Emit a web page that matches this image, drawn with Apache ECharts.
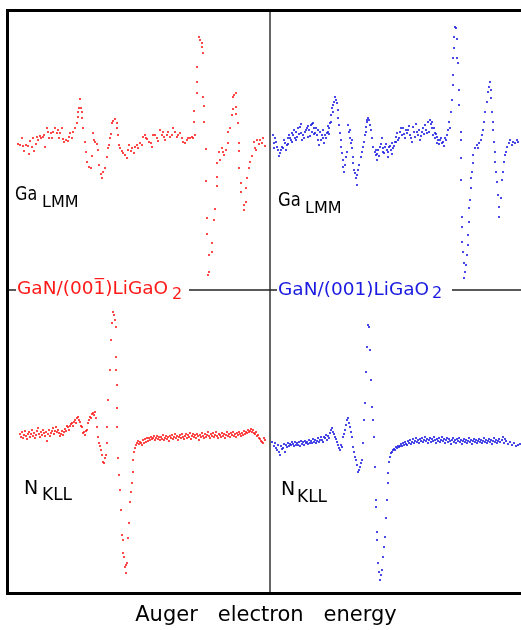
<!DOCTYPE html>
<html>
<head>
<meta charset="utf-8">
<script src="https://cdn.jsdelivr.net/npm/echarts@6/dist/echarts.min.js"></script>
<style>
  html, body { margin: 0; padding: 0; background: #fff; }
  #main { width: 521px; height: 630px; }
</style>
</head>
<body>
<div id="main"></div>
<script>
// Auger spectra, dN/dE (arbitrary units) vs channel
// Ga LMM, GaN on (00-1) LiGaO2
var gaRed = [
  [18,6],[20,5],[22,12],[23,4],[24,-1],[26,5],[28,4],[29,-4],[30,9],[32,3],[33,12],[34,-1],[36,6],[37,13],[38,10],
  [40,14],[41,12],[43,13],[44,15],[45,3],[47,22],[48,18],[49,12],[51,17],[52,12],[53,18],[55,22],[57,17],[58,20],
  [59,12],[60,17],[62,22],[63,11],[64,8],[66,10],[68,9],[69,13],[70,17],[72,12],[73,18],[75,22],[77,27],[78,33],
  [78,38],[79,42],[80,51],[81,42],[82,38],[82,32],[83,22],[85,8],[86,-2],[87,-12],[89,-17],[91,-18],[92,-6],
  [93,17],[94,10],[95,8],[97,6],[98,0],[99,-15],[101,-24],[102,-28],[103,-22],[105,-18],[107,-7],[108,2],[109,5],
  [110,12],[111,16],[112,27],[113,29],[115,31],[117,27],[117,22],[118,15],[119,5],[120,2],[122,-1],[123,-3],
  [125,-5],[127,-8],[128,0],[129,5],[131,-1],[132,2],[134,-3],[135,3],[137,5],[138,2],[140,7],[142,5],[143,13],
  [145,15],[146,12],[147,11],[149,8],[151,7],[152,3],[153,15],[155,15],[157,12],[158,9],[160,20],[162,15],
  [163,18],[164,13],[165,10],[167,15],[168,18],[170,13],[172,15],[173,22],[175,18],[177,13],[178,15],[180,17],
  [182,12],[183,8],[185,7],[187,10],[188,12],[190,12],[192,13],[193,12],[194,28],[194,39],[195,15],[197,57],
  [197,68],[197,83],[199,113],[200,110],[202,107],[202,103],[203,97],[203,53],[204,44],[204,28],[206,1],[206,-31],
  [207,-68],[207,-84],[209,-105],[209,-122],[208,-125],[212,-93],[212,-102],[214,-70],[215,-59],[217,-36],
  [217,-27],[217,-13],[219,-2],[220,-10],[222,2],[223,-2],[224,-5],[226,0],[228,7],[228,18],[230,22],[232,35],
  [233,41],[233,53],[234,55],[236,57],[236,43],[236,36],[238,27],[239,7],[239,-1],[239,-18],[241,-33],[241,-42],
  [244,-55],[244,-60],[246,-52],[246,-38],[247,-28],[249,-18],[250,-12],[252,-6],[254,8],[255,2],[256,0],
  [257,10],[259,6],[260,10],[262,7],[263,12],[265,4]
];
// Ga LMM, GaN on (001) LiGaO2
var gaBlue = [
  [273,15],[274,7],[275,12],[277,3],[278,0],[280,-3],[282,3],[283,2],[285,7],[287,5],[288,12],[289,15],[291,10],
  [292,17],[293,15],[295,12],[296,18],[297,13],[298,22],[300,23],[301,17],[302,10],[303,15],[305,18],[307,22],
  [308,13],[309,20],[311,25],[312,18],[313,27],[314,22],[315,17],[317,15],[318,10],[319,5],[320,18],[322,15],
  [323,12],[324,7],[325,15],[327,17],[328,18],[329,22],[330,27],[331,35],[332,42],[333,45],[334,48],[335,53],
  [336,50],[337,47],[338,40],[338,32],[339,25],[340,17],[341,10],[341,3],[342,-3],[343,-10],[343,-17],[344,-22],
  [345,-15],[346,-7],[347,-2],[348,25],[349,18],[350,12],[351,7],[352,2],[353,-7],[353,-13],[354,-20],[355,-23],
  [356,-28],[357,-35],[357,-25],[358,-20],[359,-15],[361,-7],[362,-2],[363,3],[364,8],[365,15],[366,23],[367,28],
  [368,32],[369,30],[370,25],[371,20],[372,12],[373,3],[375,-2],[376,-5],[377,-10],[378,0],[380,3],[382,12],
  [383,2],[384,-3],[385,3],[387,0],[388,-7],[389,3],[391,0],[392,7],[393,2],[395,8],[396,13],[397,17],[398,10],
  [400,18],[402,15],[403,22],[405,12],[407,17],[408,20],[410,15],[412,8],[413,23],[415,13],[417,18],[418,15],
  [420,10],[422,18],[423,22],[425,25],[427,17],[428,28],[430,30],[432,22],[433,15],[435,12],[437,7],[438,10],
  [432,28],[435,17],[437,13],[440,10],[442,7],[443,8],[445,12],[447,15],[448,20],[449,28],[451,38],[452,50],
  [453,65],[453,75],[453,92],[454,102],[454,113],[455,123],[456,122],[457,111],[457,92],[458,87],[459,60],
  [459,45],[461,18],[461,10],[461,-8],[461,-30],[462,-67],[462,-77],[462,-92],[463,-102],[464,-113],[464,-128],
  [465,-122],[466,-115],[467,-105],[468,-95],[468,-85],[469,-72],[469,-58],[470,-50],[471,-38],[471,-28],
  [472,-22],[473,-13],[473,-5],[475,2],[477,5],[478,2],[479,7],[481,10],[482,15],[483,20],[484,28],[485,38],
  [487,48],[488,58],[489,63],[490,68],[491,60],[491,52],[492,38],[493,28],[493,20],[494,8],[495,-2],[495,-12],
  [496,-22],[497,-32],[498,-45],[499,-57],[499,-67],[501,-48],[502,-30],[503,-22],[504,-12],[505,-5],[506,-2],
  [507,3],[509,7],[510,10],[512,5],[513,8],[515,7],[517,10],[518,8],
  [274,2],[276,8],[279,-6],[281,0],[284,10],[286,0],[288,6],[290,12],[292,8],[294,20],[296,10],[299,16],
  [301,26],[304,12],[306,20],[308,24],[310,14],[312,26],[314,16],[316,22],[318,20],[321,10],[323,20],[326,12],
  [328,24],[329,16],[331,28],[333,38],[350,20],[352,10],[366,18],[367,30],[376,0],[377,-4],[379,-6],[381,6],
  [383,-2],[386,6],[388,-2],[390,4],[392,-4],[394,4],[396,8],[399,12],[401,22],[404,16],[406,20],[409,24],
  [411,12],[414,18],[416,26],[419,20],[421,14],[424,16],[426,20],[429,18],[431,26],[434,22],[436,16],[439,6],
  [441,12],[444,4],[446,10],[450,22]
];
// N KLL, GaN on (00-1) LiGaO2
var nRed = [
  [20,6],[21,3],[22,8],[23,2],[24,5],[25,9],[26,4],[27,1],[28,6],[29,8],[30,3],[31,6],[32,10],[33,4],[34,7],
  [35,2],[36,5],[37,9],[38,12],[39,6],[40,3],[41,8],[42,5],[43,10],[44,7],[45,4],[46,8],[47,-1],[48,6],[49,10],
  [50,4],[51,7],[52,9],[53,12],[54,6],[55,9],[56,13],[57,8],[58,10],[59,7],[60,4],[61,6],[62,9],[63,5],[64,8],
  [65,11],[66,9],[67,14],[68,13],[69,10],[70,14],[71,16],[72,17],[73,14],[74,18],[75,20],[76,17],[77,22],
  [78,23],[79,20],[80,18],[81,14],[82,13],[83,7],[84,8],[85,5],[86,9],[87,10],[88,17],[89,20],[90,23],[91,22],
  [92,26],[93,27],[94,25],[95,28],[96,22],[97,13],[98,3],[99,-3],[100,-6],[101,-10],[102,-15],[103,-22],
  [104,-23],[105,-18],[106,-15],[107,-3],[107,13],[108,40],[110,70],[111,100],[112,117],[113,128],[114,125],
  [115,120],[116,113],[116,83],[116,70],[117,55],[117,32],[117,13],[118,-18],[119,-35],[120,-50],[121,-70],
  [122,-95],[123,-100],[123,-113],[124,-117],[125,-127],[126,-133],[126,-125],[127,-123],[128,-98],[129,-83],
  [130,-62],[131,-52],[132,-43],[133,-32],[133,-20],[134,-12],[135,-8],[136,-5],[137,-3],[138,-1],[139,-4],
  [140,-2],[141,-3],[142,-5],[143,0],[144,-3],[145,1],[146,-2],[147,2],[148,-1],[149,2],[150,0],[151,3],
  [152,1],[153,2],[154,4],[155,0],[156,2],[157,4],[158,1],[159,3],[160,0],[161,3],[162,1],[163,5],[164,0],
  [165,2],[166,4],[167,1],[168,3],[169,-1],[170,4],[171,2],[172,5],[173,1],[174,3],[175,6],[176,2],[177,4],
  [178,0],[179,3],[180,5],[181,2],[182,6],[183,3],[184,1],[185,4],[186,6],[187,2],[188,5],[189,3],[190,7],
  [191,1],[192,4],[193,6],[194,3],[195,5],[196,2],[197,6],[198,4],[199,0],[200,5],[201,3],[202,7],[203,4],
  [204,2],[205,6],[206,3],[207,5],[208,8],[209,4],[210,2],[211,6],[212,4],[213,7],[214,3],[215,5],[216,8],
  [217,4],[218,2],[219,6],[220,5],[221,3],[222,7],[223,4],[224,6],[225,2],[226,5],[227,8],[228,4],[229,6],
  [230,3],[231,7],[232,5],[233,8],[234,4],[235,6],[236,3],[237,7],[238,5],[239,8],[240,6],[241,4],[242,7],
  [243,5],[244,9],[245,6],[246,8],[247,7],[248,10],[249,8],[250,9],[251,11],[252,8],[253,10],[254,7],[255,6],
  [256,8],[257,4],[258,5],[259,2],[260,1],[261,-1],[262,-2],[263,-3],[264,2],[265,0]
];
// N KLL, GaN on (001) LiGaO2
var nBlue = [
  [272,-2],[274,-6],[275,-3],[276,-8],[277,-10],[278,-5],[279,-12],[280,-15],[281,-6],[282,-9],[283,-8],
  [284,-4],[285,-12],[286,-5],[287,-7],[288,-3],[289,-6],[290,-4],[291,-5],[292,-2],[293,-4],[294,-6],[295,-2],
  [296,-5],[297,-3],[298,-5],[299,-2],[300,-6],[301,-1],[302,-4],[303,-2],[304,-5],[305,-1],[306,-3],[307,-2],
  [308,-4],[309,0],[310,-3],[311,-1],[312,-3],[313,1],[314,-2],[315,0],[316,-3],[317,-1],[318,2],[319,-2],
  [320,0],[321,3],[322,0],[323,-2],[324,3],[325,2],[326,5],[327,0],[328,4],[329,2],[330,7],[331,10],[332,12],
  [333,8],[334,6],[335,3],[336,1],[337,-2],[338,-5],[339,-8],[340,-10],[341,-5],[342,-7],[343,3],[344,6],
  [345,10],[346,15],[347,20],[348,22],[349,17],[350,13],[351,8],[352,3],[353,-7],[354,-12],[355,-17],[356,-20],
  [357,-25],[358,-32],[359,-30],[360,-27],[361,-23],[362,-20],[363,-3],[364,20],[365,37],[366,68],[367,93],
  [368,115],[369,113],[370,90],[371,60],[372,33],[373,20],[374,3],[375,-27],[376,-60],[376,-67],[377,-92],
  [377,-100],[378,-123],[379,-132],[380,-140],[381,-135],[382,-130],[383,-117],[384,-107],[385,-97],[386,-78],
  [387,-60],[388,-43],[388,-33],[389,-22],[390,-17],[391,-13],[392,-12],[393,-10],[394,-9],[395,-10],[396,-7],
  [397,-8],[398,-6],[399,-7],[400,-6],[401,-4],[402,-6],[403,-3],[404,-5],[405,-2],[406,-4],[407,-5],[408,-1],
  [409,-3],[410,0],[411,-4],[412,-2],[413,1],[414,-3],[415,-1],[416,2],[417,-2],[418,0],[419,-3],[420,1],
  [421,-1],[422,2],[423,-2],[424,0],[425,3],[426,-1],[427,1],[428,-3],[429,0],[430,2],[431,-2],[432,1],
  [433,-1],[434,3],[435,0],[436,-3],[437,1],[438,-1],[439,2],[440,-2],[441,0],[442,3],[443,-1],[444,1],
  [445,-3],[446,0],[447,2],[448,-2],[449,1],[450,-1],[451,-4],[452,0],[453,2],[454,-2],[455,0],[456,-3],
  [457,1],[458,-1],[459,2],[460,-2],[461,0],[462,-4],[463,-1],[464,1],[465,-2],[466,0],[467,-3],[468,-1],
  [469,2],[470,-2],[471,0],[472,-4],[473,-1],[474,1],[475,-2],[476,0],[477,-3],[478,-1],[479,1],[480,-2],
  [481,0],[482,-3],[483,-1],[484,2],[485,-2],[486,0],[487,-3],[488,-1],[489,1],[490,-2],[491,0],[492,-4],
  [493,-1],[494,2],[495,-2],[496,0],[497,-3],[498,-1],[499,1],[500,-2],[502,0],[503,3],[504,-3],[505,1],
  [506,-1],[508,-4],[510,-2],[512,-5],[514,-3],[516,-6],[518,-5],[520,-4]
];

var sampleRed = 'GaN/(001\u0305)LiGaO';
var sampleBlue = 'GaN/(001)LiGaO';
var xTitle = 'Auger   electron   energy';

var RED = '#ff1a1a', BLUE = '#1a1ae0';
var FONT = '"DejaVu Sans", sans-serif';

var myChart = echarts.init(document.getElementById('main'));

function axX(grid, lo, hi) {
    return { type: 'value', gridIndex: grid, min: lo, max: hi, show: false };
}
function axY(grid, lo, hi) {
    return { type: 'value', gridIndex: grid, min: lo, max: hi, show: false };
}
function dots(name, data, idx, color) {
    return {
        name: name, type: 'scatter', data: data,
        xAxisIndex: idx, yAxisIndex: idx,
        symbol: 'rect', symbolSize: 2,
        itemStyle: { color: color },
        silent: true
    };
}
function txt(s, x, y, size, color, sx) {
    return {
        type: 'text', x: x, y: y, scaleX: sx || 1, silent: true,
        style: { text: s, fill: color, font: size + 'px ' + FONT,
                 textAlign: 'left', textVerticalAlign: 'middle' }
    };
}
function seg(x1, y1, x2, y2, w, c) {
    return { type: 'line', silent: true,
             shape: { x1: x1, y1: y1, x2: x2, y2: y2 },
             style: { stroke: c, lineWidth: w } };
}

option = {
    animation: false,
    backgroundColor: '#fff',
    grid: [
        { left: 9, top: 10, width: 261, height: 280 },
        { left: 270, top: 10, width: 251, height: 280 },
        { left: 9, top: 290, width: 261, height: 302 },
        { left: 270, top: 290, width: 251, height: 302 }
    ],
    xAxis: [axX(0, 9, 270), axX(1, 270, 521), axX(2, 9, 270), axX(3, 270, 521)],
    yAxis: [axY(0, -140, 140), axY(1, -140, 140), axY(2, -152, 150), axY(3, -152, 150)],
    series: [
        dots('Ga LMM (00-1)', gaRed, 0, RED),
        dots('Ga LMM (001)', gaBlue, 1, BLUE),
        dots('N KLL (00-1)', nRed, 2, RED),
        dots('N KLL (001)', nBlue, 3, BLUE)
    ],
    graphic: [
        // frame
        seg(6.5, 10.5, 521, 10.5, 3, '#000'),
        seg(7.5, 9, 7.5, 595, 3, '#000'),
        seg(6.5, 593.5, 521, 593.5, 3, '#000'),
        seg(270, 12, 270, 592, 1.5, '#333'),
        // middle line, broken by the sample labels
        seg(9, 290, 16, 290, 1.5, '#222'),
        seg(189, 290, 277, 290, 1.5, '#222'),
        seg(452, 290, 521, 290, 1.5, '#222'),
        txt(sampleRed, 17, 289.5, 18.5, RED),
        txt('2', 172, 295, 16, RED),
        txt(sampleBlue, 278, 290, 18.5, BLUE),
        txt('2', 432, 293.5, 16, BLUE),
        // peak labels
        txt('Ga', 15, 195, 20, '#000', 0.8),
        txt('LMM', 42, 202.5, 16, '#000'),
        txt('Ga', 278, 200.5, 20, '#000', 0.82),
        txt('LMM', 305, 209, 16, '#000'),
        txt('N', 24, 489, 19, '#000'),
        txt('KLL', 42, 496, 17, '#000'),
        txt('N', 281, 490.5, 19, '#000'),
        txt('KLL', 297, 498, 17, '#000'),
        // axis title
        {
            type: 'text', x: 266, y: 616, silent: true,
            style: { text: xTitle, fill: '#000', font: '21px ' + FONT,
                     textAlign: 'center', textVerticalAlign: 'middle' }
        }
    ]
};
myChart.setOption(option);
</script>
</body>
</html>
